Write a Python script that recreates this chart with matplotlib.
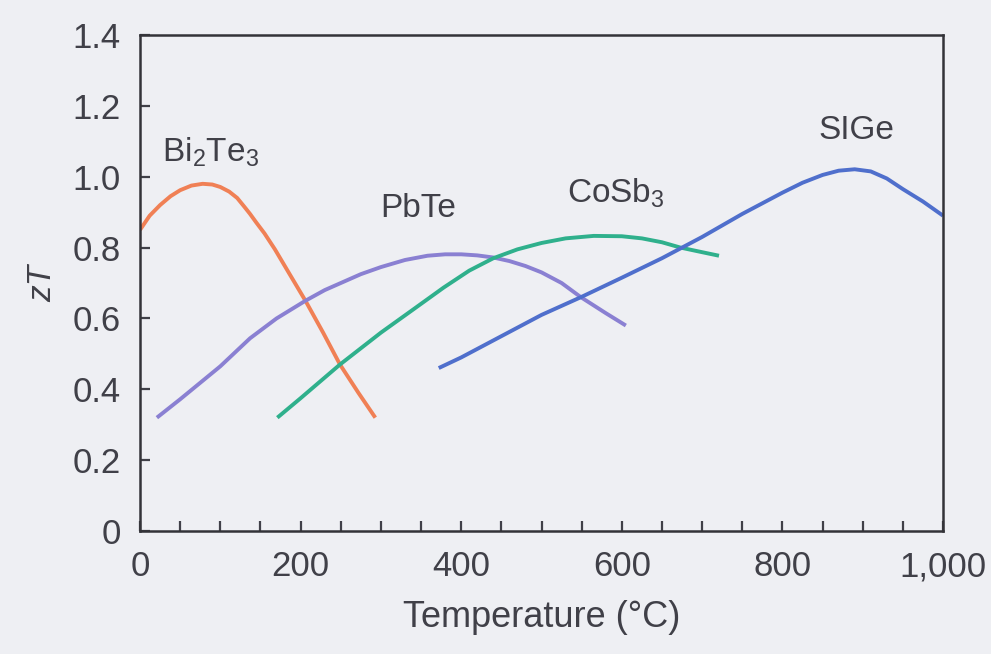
import numpy as np
import matplotlib.pyplot as plt

# values (temperature in °C, zT)
bite_T = [0, 12, 25, 38, 50, 64, 78, 90, 100, 111, 121, 130, 137, 145, 155, 168, 185, 206, 228, 249, 272, 293]
bite_zT = [0.85, 0.89, 0.92, 0.945, 0.962, 0.975, 0.98, 0.978, 0.971, 0.958, 0.94, 0.915, 0.895, 0.87, 0.84, 0.795, 0.73, 0.65, 0.56, 0.47, 0.39, 0.32]

pbte_T = [21, 50, 100, 137, 170, 206, 230, 250, 275, 300, 330, 358, 380, 400, 420, 440, 460, 480, 500, 525, 549, 580, 605]
pbte_zT = [0.32, 0.372, 0.465, 0.544, 0.60, 0.65, 0.68, 0.70, 0.725, 0.745, 0.765, 0.777, 0.781, 0.781, 0.778, 0.772, 0.762, 0.748, 0.73, 0.70, 0.66, 0.615, 0.58]

cosb_T = [171, 200, 249, 300, 340, 378, 410, 440, 470, 500, 530, 565, 600, 625, 650, 673, 700, 721]
cosb_zT = [0.32, 0.375, 0.47, 0.56, 0.625, 0.687, 0.735, 0.77, 0.795, 0.813, 0.826, 0.833, 0.832, 0.826, 0.815, 0.80, 0.787, 0.777]

sige_T = [372, 400, 450, 500, 549, 600, 650, 700, 750, 800, 825, 850, 870, 890, 910, 930, 950, 975, 1000]
sige_zT = [0.46, 0.49, 0.55, 0.61, 0.66, 0.715, 0.77, 0.83, 0.895, 0.955, 0.983, 1.005, 1.017, 1.021, 1.015, 0.995, 0.965, 0.93, 0.89]

x_ticks = [0, 200, 400, 600, 800, 1000]
x_tick_labels = ['0', '200', '400', '600', '800', '1,000']
y_ticks = [0, 0.2, 0.4, 0.6, 0.8, 1.0, 1.2, 1.4]
y_tick_labels = ['0', '0.2', '0.4', '0.6', '0.8', '1.0', '1.2', '1.4']

bg = '#eeeff3'
ink = '#404048'
fonts = ['Liberation Sans Narrow', 'Liberation Sans', 'DejaVu Sans']
plt.rcParams['font.family'] = fonts
plt.rcParams['mathtext.fontset'] = 'custom'
plt.rcParams['mathtext.rm'] = fonts[1]

fig = plt.figure(figsize=(9.91, 6.54), dpi=100, facecolor=bg)
ax = fig.add_axes([0.1413, 0.188, 0.8103, 0.7585], facecolor=bg)

style = dict(lw=2.8, solid_capstyle='butt', solid_joinstyle='round')
ax.plot(bite_T, bite_zT, color='#f08055', **style)
ax.plot(pbte_T, pbte_zT, color='#8a80d2', **style)
ax.plot(cosb_T, cosb_zT, color='#2fb08c', **style)
ax.plot(sige_T, sige_zT, color='#4f6fcc', **style)

ax.text(27, 1.07, r'Bi$_2$Te$_3$', fontsize=24, color=ink, va='center')
ax.text(299, 0.91, 'PbTe', fontsize=24, color=ink, va='center')
ax.text(532, 0.955, r'CoSb$_3$', fontsize=24, color=ink, va='center')
ax.text(845, 1.13, 'SIGe', fontsize=24, color=ink, va='center')

ax.set_xlim(0, 1000)
ax.set_ylim(0, 1.4)
ax.set_xticks(x_ticks)
ax.set_xticklabels(x_tick_labels)
ax.set_xticks(np.arange(50, 1000, 50), minor=True)
ax.set_yticks(y_ticks)
ax.set_yticklabels(y_tick_labels)
ax.tick_params(axis='both', direction='in', length=7, width=1.6, labelsize=25,
               colors=ink, pad=14)
ax.tick_params(axis='x', which='minor', direction='in', length=7, width=1.6, colors=ink)
for s in ax.spines.values():
    s.set_color('#333338')
    s.set_linewidth(1.8)

ax.set_xlabel('Temperature (°C)', fontsize=26, color=ink, labelpad=12)
ax.set_ylabel('zT', fontsize=24, color=ink, style='italic', labelpad=10)

fig.savefig('out.png', dpi=100, facecolor=bg)
